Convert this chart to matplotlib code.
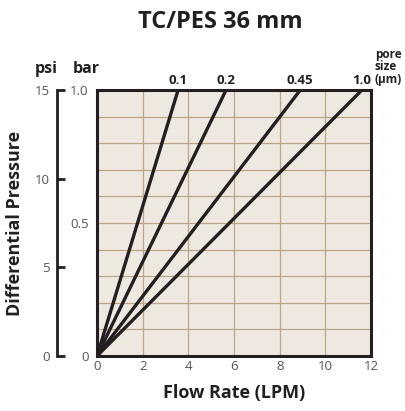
import matplotlib
matplotlib.use("Agg")
import matplotlib.pyplot as plt

plt.rcParams["font.family"] = ["Open Sans", "DejaVu Sans"]

# pore size lines: pressure 1.0 bar reached at these flow rates (LPM)
pore_sizes = ["0.1", "0.2", "0.45", "1.0"]
flow_at_1bar = [3.55, 5.65, 8.9, 11.6]

x_ticks = [0, 2, 4, 6, 8, 10, 12]
grid_bar = [0.1, 0.2, 0.3, 0.4, 0.5, 0.6, 0.7, 0.8, 0.9]
bar_ticks = [0, 0.5, 1.0]
bar_labels = ["0", "0.5", "1.0"]
psi_ticks = [0, 5, 10, 15]

BG = "#efe8e0"
GRID = "#bba589"
INK = "#231f20"
TICK = "#555555"

fig = plt.figure(figsize=(4.06, 4.11), dpi=100)
ax = fig.add_axes([0.239, 0.134, 0.675, 0.647])
ax.set_facecolor(BG)

# grid drawn by hand, under the lines
for gx in x_ticks[1:-1]:
    ax.axvline(gx, color=GRID, lw=0.9, zorder=1)
for gy in grid_bar:
    ax.axhline(gy, color=GRID, lw=0.9, zorder=1)

for fx in flow_at_1bar:
    ax.plot([0, fx], [0, 1.0], color=INK, lw=2.4, solid_capstyle="butt", zorder=3)

ax.set_xlim(0, 12)
ax.set_ylim(0, 1.0)
ax.set_xticks(x_ticks)
ax.set_yticks(bar_ticks)
ax.set_yticklabels(bar_labels)
ax.tick_params(axis="both", which="both", length=0, labelsize=9.5, colors=TICK, pad=3)
ax.tick_params(axis="y", pad=6)
for s in ax.spines.values():
    s.set_linewidth(2.2)
    s.set_color(INK)
    s.set_zorder(4)

for lab, fx in zip(pore_sizes, flow_at_1bar):
    ax.text(fx, 1.01, lab, ha="center", va="bottom", fontsize=9.5,
            fontweight="bold", color=INK)

ax.set_xlabel("Flow Rate (LPM)", fontsize=13, fontweight="bold", color=INK, labelpad=8)

# psi axis
ax_psi = ax.twinx()
ax_psi.set_ylim(0, 15)
ax_psi.set_yticks(psi_ticks)
ax_psi.yaxis.set_ticks_position("left")
ax_psi.yaxis.set_label_position("left")
ax_psi.spines["left"].set_position(("outward", 29))
ax_psi.spines["left"].set_bounds(0, 15)
ax_psi.spines["left"].set_linewidth(2.0)
ax_psi.spines["left"].set_color(INK)
for k in ["right", "top", "bottom"]:
    ax_psi.spines[k].set_visible(False)
ax_psi.tick_params(axis="y", direction="in", length=6, width=2.0, color=INK,
                   labelsize=9.5, labelcolor=TICK, pad=5)
ax_psi.set_ylabel("Differential Pressure", fontsize=13, fontweight="bold",
                  color=INK, labelpad=8)

fig.text(46 / 406, 1 - 69 / 411, "psi", ha="center", va="center",
         fontsize=11.5, fontweight="bold", color=INK)
fig.text(86 / 406, 1 - 69 / 411, "bar", ha="center", va="center",
         fontsize=11.5, fontweight="bold", color=INK)
fig.text(375 / 406, 1 - 67 / 411, "pore\nsize\n(µm)", ha="left", va="center",
         fontsize=8.5, fontweight="bold", color=INK, linespacing=0.95)

fig.text(220 / 406, 1 - 22 / 411, "TC/PES 36 mm", ha="center", va="center",
         fontsize=17, fontweight="bold", color=INK)

fig.savefig("out.png", dpi=100)
